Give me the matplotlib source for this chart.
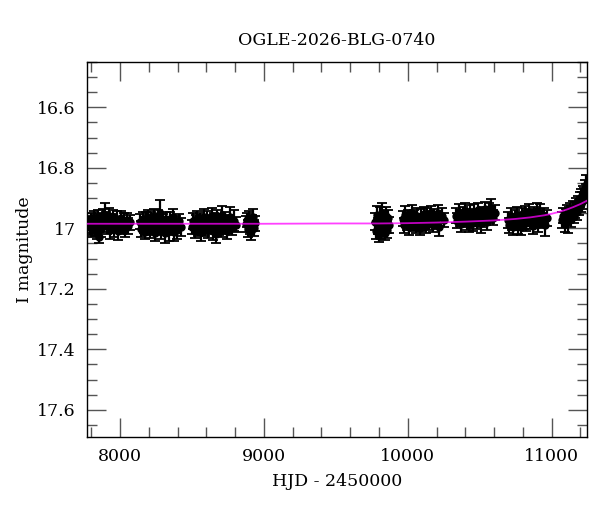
import numpy as np
import matplotlib
matplotlib.use("Agg")
import matplotlib.pyplot as plt
from matplotlib.ticker import MultipleLocator

# photometry, one block per observing season
hjd_s1 = [7782, 7790, 7797, 7805, 7812, 7820, 7826, 7833, 7841, 7848, 7855, 7863, 7870, 7878,
          7885, 7896, 7900, 7908, 7915, 7923, 7930, 7938, 7946, 7953, 7961, 7970, 7979, 7988,
          7997, 8006, 8015, 8025, 8035, 8046, 8058, 8070]
mag_s1 = [16.982, 16.995, 16.971, 17.004, 16.988, 16.966, 16.999, 16.979, 17.010, 16.962, 17.028,
          16.975, 17.002, 16.958, 16.986, 16.955, 16.969, 16.993, 16.981, 16.960, 17.006, 16.977,
          16.991, 16.964, 17.001, 16.984, 16.970, 17.008, 16.989, 16.967, 16.996, 16.976, 17.003,
          16.972, 16.992, 16.980]
err_s1 = [0.024, 0.026, 0.022, 0.025, 0.027, 0.023, 0.028, 0.024, 0.026, 0.022, 0.020,
          0.025, 0.027, 0.023, 0.026, 0.040, 0.024, 0.025, 0.022, 0.026, 0.028, 0.023,
          0.025, 0.024, 0.027, 0.022, 0.026, 0.030, 0.024, 0.025, 0.023, 0.028, 0.026,
          0.024, 0.027, 0.025]

hjd_s2 = [8140, 8148, 8156, 8163, 8171, 8179, 8186, 8194, 8202, 8210, 8217, 8225, 8233, 8240,
          8248, 8256, 8264, 8271, 8279, 8287, 8295, 8303, 8311, 8320, 8329, 8338, 8347, 8356,
          8366, 8376, 8386, 8397, 8410, 8425]
mag_s2 = [16.978, 17.003, 16.968, 16.990, 17.011, 16.974, 16.997, 16.963, 16.986, 17.007, 16.971,
          16.993, 16.959, 17.014, 16.982, 16.998, 16.966, 16.989, 16.948, 17.005, 16.976, 16.994,
          17.016, 16.969, 16.987, 17.009, 16.973, 16.999, 16.962, 17.012, 16.984, 17.004, 16.977,
          16.995]
err_s2 = [0.025, 0.027, 0.023, 0.026, 0.024, 0.028, 0.025, 0.022, 0.027, 0.026, 0.024,
          0.025, 0.023, 0.028, 0.026, 0.024, 0.027, 0.025, 0.040, 0.030, 0.023, 0.026,
          0.032, 0.024, 0.025, 0.034, 0.027, 0.024, 0.026, 0.030, 0.025, 0.033, 0.024,
          0.030]

hjd_s3 = [8502, 8510, 8518, 8526, 8533, 8541, 8549, 8557, 8565, 8572, 8580, 8588, 8596, 8604,
          8612, 8620, 8628, 8636, 8644, 8652, 8660, 8668, 8676, 8685, 8694, 8703, 8712, 8722,
          8732, 8742, 8752, 8763, 8776, 8790, 8803]
mag_s3 = [16.996, 16.975, 17.008, 16.983, 16.969, 17.002, 16.988, 16.972, 17.013, 16.980, 16.961,
          16.999, 16.985, 16.966, 17.006, 16.978, 16.992, 16.958, 17.010, 16.973, 16.987, 17.018,
          16.964, 16.995, 16.976, 17.004, 16.957, 16.990, 16.970, 17.009, 16.981, 16.962, 16.997,
          16.975, 16.988]
err_s3 = [0.024, 0.026, 0.023, 0.027, 0.025, 0.022, 0.026, 0.024, 0.028, 0.023, 0.026,
          0.025, 0.027, 0.024, 0.026, 0.023, 0.028, 0.025, 0.030, 0.024, 0.026, 0.032,
          0.025, 0.027, 0.024, 0.026, 0.030, 0.028, 0.025, 0.027, 0.024, 0.033, 0.026,
          0.035, 0.025]

hjd_s4 = [8877, 8884, 8890, 8897, 8903, 8910, 8916, 8923, 8929, 8935]
mag_s4 = [16.985, 16.972, 17.002, 16.968, 16.993, 17.010, 16.979, 16.962, 16.998, 16.983]
err_s4 = [0.026, 0.024, 0.028, 0.026, 0.025, 0.030, 0.024, 0.027, 0.026, 0.025]

hjd_s5 = [9775, 9781, 9787, 9793, 9799, 9805, 9811, 9817, 9823, 9829, 9835, 9841, 9847, 9853,
          9859, 9865, 9871]
mag_s5 = [16.978, 17.010, 16.955, 16.992, 17.018, 16.962, 16.985, 17.006, 16.948, 16.999, 16.972,
          17.014, 16.960, 16.988, 17.004, 16.967, 16.990]
err_s5 = [0.028, 0.026, 0.030, 0.027, 0.028, 0.032, 0.026, 0.029, 0.031, 0.027, 0.028,
          0.026, 0.030, 0.027, 0.028, 0.029, 0.026]

hjd_s6 = [9966, 9975, 9984, 9993, 10002, 10011, 10020, 10029, 10038, 10047, 10056, 10065, 10074,
          10083, 10092, 10101, 10110, 10119, 10128, 10137, 10146, 10155, 10164, 10174, 10185,
          10196, 10208, 10220, 10235, 10252]
mag_s6 = [16.968, 16.990, 16.955, 16.981, 16.962, 16.996, 16.974, 16.950, 16.985, 16.966, 16.992,
          16.958, 16.979, 16.998, 16.963, 16.986, 16.954, 16.975, 16.993, 16.960, 16.982, 16.969,
          16.951, 16.988, 16.964, 16.977, 16.948, 16.995, 16.958, 16.972]
err_s6 = [0.026, 0.024, 0.028, 0.025, 0.023, 0.027, 0.024, 0.026, 0.025, 0.027, 0.024,
          0.026, 0.025, 0.023, 0.027, 0.024, 0.026, 0.025, 0.024, 0.027, 0.025, 0.026,
          0.024, 0.025, 0.027, 0.024, 0.026, 0.030, 0.025, 0.024]

hjd_s7 = [10337, 10346, 10355, 10364, 10373, 10382, 10391, 10400, 10409, 10418, 10427, 10436,
          10445, 10454, 10463, 10472, 10481, 10490, 10499, 10508, 10517, 10526, 10535, 10544,
          10553, 10562, 10571, 10582, 10595, 10610]
mag_s7 = [16.958, 16.975, 16.947, 16.966, 16.985, 16.952, 16.970, 16.943, 16.978, 16.960, 16.988,
          16.950, 16.967, 16.982, 16.945, 16.962, 16.976, 16.940, 16.968, 16.984, 16.953, 16.971,
          16.937, 16.963, 16.980, 16.946, 16.957, 16.932, 16.965, 16.948]
err_s7 = [0.025, 0.024, 0.027, 0.025, 0.026, 0.024, 0.025, 0.027, 0.026, 0.024, 0.025,
          0.026, 0.024, 0.027, 0.025, 0.024, 0.026, 0.025, 0.024, 0.032, 0.025, 0.026,
          0.024, 0.025, 0.027, 0.030, 0.026, 0.028, 0.025, 0.026]

hjd_s8 = [10698, 10707, 10716, 10725, 10734, 10743, 10752, 10761, 10770, 10779, 10788, 10797,
          10806, 10815, 10824, 10833, 10842, 10851, 10860, 10869, 10878, 10887, 10896, 10905,
          10914, 10923, 10933, 10944, 10956, 10969]
mag_s8 = [16.972, 16.990, 16.960, 16.981, 16.995, 16.965, 16.978, 16.955, 16.988, 16.970, 16.996,
          16.958, 16.976, 16.951, 16.984, 16.962, 16.947, 16.979, 16.966, 16.992, 16.953, 16.973,
          16.944, 16.985, 16.961, 16.949, 16.975, 16.958, 16.990, 16.966]
err_s8 = [0.026, 0.024, 0.027, 0.025, 0.028, 0.024, 0.026, 0.025, 0.030, 0.024, 0.026,
          0.025, 0.027, 0.024, 0.026, 0.025, 0.028, 0.024, 0.026, 0.027, 0.025, 0.024,
          0.027, 0.026, 0.025, 0.028, 0.024, 0.026, 0.035, 0.025]

hjd_s9 = [11076, 11083, 11090, 11097, 11104, 11111, 11118, 11125, 11132, 11139, 11146, 11153,
          11160, 11167, 11174, 11181, 11188, 11195, 11202, 11208, 11214, 11220, 11226, 11232,
          11237, 11242]
mag_s9 = [16.972, 16.958, 16.985, 16.962, 16.948, 16.975, 16.955, 16.940, 16.968, 16.950, 16.935,
          16.958, 16.940, 16.925, 16.945, 16.918, 16.932, 16.905, 16.920, 16.895, 16.908, 16.885,
          16.892, 16.870, 16.878, 16.858]
err_s9 = [0.026, 0.025, 0.027, 0.026, 0.024, 0.040, 0.026, 0.025, 0.027, 0.024, 0.026,
          0.025, 0.027, 0.024, 0.026, 0.025, 0.024, 0.026, 0.025, 0.024, 0.027, 0.025,
          0.026, 0.030, 0.025, 0.035]

# microlensing model curve, sampled by eye
model_hjd = [7770, 8500, 9000, 9500, 9800, 10000, 10200, 10400, 10600, 10750, 10850, 10950,
             11000, 11050, 11100, 11150, 11200, 11245]
model_mag = [16.985, 16.985, 16.985, 16.984, 16.984, 16.983, 16.981, 16.978, 16.974, 16.969,
             16.964, 16.957, 16.952, 16.946, 16.939, 16.930, 16.920, 16.909]

event_name = "OGLE-2026-BLG-0740"

hjd = np.concatenate([hjd_s1, hjd_s2, hjd_s3, hjd_s4, hjd_s5, hjd_s6, hjd_s7, hjd_s8, hjd_s9])
mag = np.concatenate([mag_s1, mag_s2, mag_s3, mag_s4, mag_s5, mag_s6, mag_s7, mag_s8, mag_s9])
err = np.concatenate([err_s1, err_s2, err_s3, err_s4, err_s5, err_s6, err_s7, err_s8, err_s9])

plt.rcParams['font.family'] = ['DejaVu Serif']

fig = plt.figure(figsize=(6, 5.12), dpi=100)
ax = fig.add_axes([0.145, 0.1465, 0.833, 0.7325])

ax.errorbar(hjd, mag, yerr=err, fmt='o', color='black', markersize=5,
            elinewidth=1.6, capsize=3.5, capthick=1.3, zorder=2)
ax.plot(model_hjd, model_mag, color='magenta', lw=1.3, alpha=0.75, zorder=3)

ax.set_xlim(7770, 11245)
ax.set_ylim(17.69, 16.45)

ax.xaxis.set_major_locator(MultipleLocator(1000))
ax.xaxis.set_minor_locator(MultipleLocator(200))
ax.yaxis.set_major_locator(MultipleLocator(0.2))
ax.yaxis.set_minor_locator(MultipleLocator(0.05))
ax.yaxis.set_major_formatter(plt.FuncFormatter(lambda v, p: f"{v:g}"))

ax.tick_params(which='both', direction='in', top=True, right=True,
               color='#555555', labelsize=12.5)
ax.tick_params(which='major', length=13.5, width=1.0, pad=8)
ax.tick_params(which='minor', length=7, width=1.0)
for s in ax.spines.values():
    s.set_linewidth(1.0)

ax.set_title(event_name, fontsize=12.5, pad=12)
ax.set_xlabel("HJD - 2450000", fontsize=12.5, labelpad=6)
ax.set_ylabel("I magnitude", fontsize=12.5, labelpad=3)

fig.savefig("out.png", dpi=100)
